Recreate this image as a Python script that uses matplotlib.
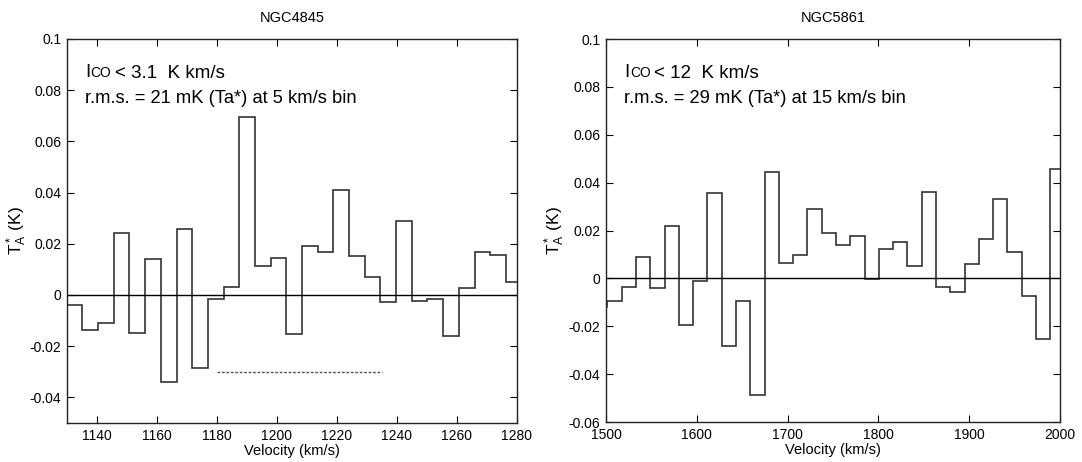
import numpy as np
import matplotlib
matplotlib.use('agg')
import matplotlib.pyplot as plt
from matplotlib.ticker import FuncFormatter

plt.rcParams['font.family'] = ['Liberation Sans', 'DejaVu Sans']
plt.rcParams['axes.unicode_minus'] = False
plt.rcParams['mathtext.fontset'] = 'custom'
plt.rcParams['mathtext.rm'] = 'Liberation Sans'
plt.rcParams['mathtext.it'] = 'Liberation Sans'

# NGC4845 spectrum, 5.2 km/s channels
n4845_v0 = 1129.92
n4845_dv = 5.228
n4845_ta = [-0.0039, -0.0137, -0.0111, 0.0244, -0.0148, 0.0142, -0.0341, 0.0259,
            -0.0286, -0.0017, 0.0030, 0.0695, 0.0112, 0.0144, -0.0152, 0.0190,
            0.0168, 0.0409, 0.0154, 0.0072, -0.0029, 0.0288, -0.0022, -0.0016,
            -0.0161, 0.0027, 0.0168, 0.0156, 0.0051]
n4845_window = [1180, 1235]
n4845_window_y = -0.03

# NGC5861 spectrum, 15.7 km/s channels
n5861_v0 = 1485.87
n5861_dv = 15.73
n5861_ta = [-0.0119, -0.0095, -0.0035, 0.0090, -0.0042, 0.0220, -0.0193, -0.0010,
            0.0357, -0.0283, -0.0095, -0.0487, 0.0446, 0.0063, 0.0099, 0.0291,
            0.0190, 0.0138, 0.0178, -0.0003, 0.0123, 0.0151, 0.0053, 0.0361,
            -0.0035, -0.0057, 0.0060, 0.0166, 0.0331, 0.0112, -0.0074, -0.0252,
            0.0459]


def fmt(y, pos):
    return '%g' % round(y, 3)


def draw_spectrum(ax, name, v0, dv, ta, xlim, ylim, xticks, yticks, ico, rms, binw):
    edges = v0 + dv * np.arange(len(ta) + 1)
    ax.stairs(ta, edges, baseline=None, color='#333333', lw=1.2)
    ax.axhline(0, color='black', lw=1.0)
    ax.set_xlim(*xlim)
    ax.set_ylim(*ylim)
    ax.set_xticks(xticks)
    ax.set_yticks(yticks)
    ax.yaxis.set_major_formatter(FuncFormatter(fmt))
    ax.tick_params(direction='in', top=True, right=True, length=5, width=0.8,
                   labelsize=10, pad=4)
    for s in ax.spines.values():
        s.set_linewidth(1.0)
        s.set_color('#222222')
    ax.set_title(name, fontsize=10.5, pad=12.5)
    ax.set_xlabel('Velocity (km/s)', fontsize=10.5, labelpad=1)
    ax.set_ylabel('T$_A^*$ (K)', fontsize=12.5)
    ax.yaxis.set_label_coords(-0.085, 0.5)
    # I_CO line: big "I", small "CO" on the same baseline, then the rest
    t = ax.text(0.04, 0.902, 'I', transform=ax.transAxes, fontsize=13.5,
                ha='left', va='baseline')
    c = ax.annotate('CO', xy=(1, 0.19), xycoords=t, fontsize=10,
                    ha='left', va='baseline', xytext=(0.3, 0), textcoords='offset points')
    ax.annotate('< %s  K km/s' % ico, xy=(1, 0.19), xycoords=c, fontsize=13.5,
                ha='left', va='baseline', xytext=(2.5, 0), textcoords='offset points')
    ax.text(0.04, 0.834, 'r.m.s. = %s mK (Ta*) at %s km/s bin' % (rms, binw),
            transform=ax.transAxes, fontsize=13.2, ha='left', va='baseline')


fig = plt.figure(figsize=(10.82, 4.62), dpi=100)
ax1 = fig.add_axes([67 / 1082, 1 - 423 / 462, 450 / 1082, 384 / 462])
ax2 = fig.add_axes([606 / 1082, 1 - 422 / 462, 454 / 1082, 383 / 462])

draw_spectrum(ax1, 'NGC4845', n4845_v0, n4845_dv, n4845_ta, (1130, 1280), (-0.05, 0.1),
              np.arange(1140, 1281, 20), np.arange(-0.04, 0.101, 0.02), '3.1', '21', '5')
ax1.plot(n4845_window, [n4845_window_y] * 2, color='#555555', lw=1.0, ls=(0, (2, 1.2)))

draw_spectrum(ax2, 'NGC5861', n5861_v0, n5861_dv, n5861_ta, (1500, 2000), (-0.06, 0.1),
              np.arange(1500, 2001, 100), np.arange(-0.06, 0.101, 0.02), '12', '29', '15')

fig.savefig('out.png', dpi=100)
plt.close(fig)
